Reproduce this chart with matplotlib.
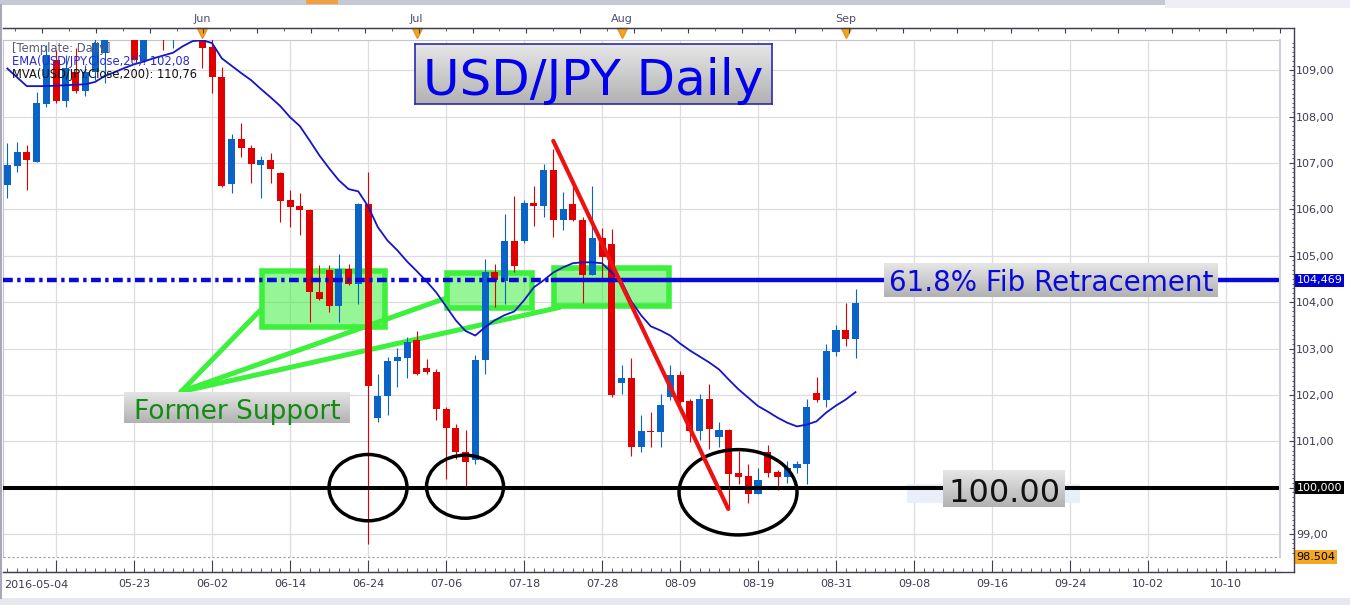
import numpy as np
import matplotlib
matplotlib.use("Agg")
import matplotlib.pyplot as plt
from matplotlib.patches import Rectangle, Ellipse
from matplotlib.colors import LinearSegmentedColormap
from matplotlib.ticker import MultipleLocator, FuncFormatter
from matplotlib.lines import Line2D

W, H = 1350, 605

# --- daily USD/JPY candles, index 0 = 2016-05-04 (one step per trading day) ---
opens = [106.52, 106.94, 107.24, 107.03, 108.27, 109.22, 108.34, 108.97, 108.56, 108.96,
         109.37, 109.90, 110.20, 110.00, 109.20, 110.10, 110.50, 109.80, 110.30, 110.50,
         110.00, 109.51, 108.86, 106.54, 107.53, 107.33, 106.95, 107.06, 106.79, 106.20,
         106.07, 105.98, 104.23, 104.69, 103.92, 104.71, 104.40, 106.11, 101.50, 101.97,
         102.73, 102.79, 103.18, 102.59, 102.49, 101.70, 101.29, 100.76, 100.60, 102.76,
         104.65, 104.46, 105.33, 105.32, 106.13, 106.08, 106.85, 105.78, 106.11, 105.78,
         104.58, 105.38, 105.25, 102.25, 102.37, 100.87, 101.23, 101.19, 101.95, 102.44,
         101.86, 101.23, 101.92, 101.10, 101.25, 100.31, 100.25, 99.86, 100.76, 100.33,
         100.22, 100.43, 100.51, 102.04, 101.88, 102.92, 103.41, 103.21]
highs = [107.43, 107.46, 107.39, 108.54, 109.55, 109.44, 109.33, 109.48, 109.12, 109.80,
         110.20, 110.30, 110.40, 110.30, 110.40, 110.60, 110.70, 110.50, 110.80, 110.60,
         110.10, 109.70, 109.08, 107.62, 107.86, 107.38, 107.15, 107.21, 106.81, 106.41,
         106.35, 106.00, 104.80, 104.80, 105.03, 104.82, 106.13, 106.80, 102.46, 102.81,
         103.01, 103.25, 103.37, 102.78, 102.56, 101.73, 101.38, 101.25, 102.87, 104.94,
         104.83, 105.90, 106.29, 106.21, 106.50, 106.98, 107.30, 106.38, 106.52, 105.84,
         106.50, 105.59, 105.57, 102.64, 102.80, 101.56, 101.63, 102.02, 102.64, 102.51,
         101.92, 102.02, 102.24, 101.41, 101.27, 100.80, 100.50, 100.43, 100.91, 100.37,
         100.57, 100.58, 101.92, 102.38, 103.10, 103.50, 103.98, 104.29]
lows = [106.24, 106.80, 106.41, 107.03, 108.20, 108.30, 108.21, 108.51, 108.45, 108.79,
        108.73, 109.75, 109.80, 109.22, 109.15, 109.90, 109.44, 109.48, 110.00, 109.80,
        109.05, 108.52, 106.48, 106.36, 107.13, 106.57, 106.25, 106.56, 105.73, 105.62,
        105.44, 103.57, 104.04, 103.79, 103.57, 104.38, 103.97, 98.79, 101.41, 101.56,
        102.17, 102.36, 102.44, 102.46, 101.46, 100.19, 100.62, 100.04, 100.52, 102.46,
        103.89, 103.97, 104.65, 105.28, 105.64, 105.83, 105.41, 105.55, 105.76, 103.98,
        104.58, 104.47, 101.95, 102.02, 100.69, 100.76, 100.87, 100.87, 101.88, 101.80,
        100.98, 101.02, 100.84, 100.87, 99.57, 100.08, 99.66, 99.86, 100.22, 99.95,
        100.09, 100.31, 100.08, 101.84, 101.75, 102.85, 103.05, 102.80]
closes = [106.95, 107.24, 107.06, 108.29, 109.33, 108.34, 109.05, 108.56, 108.96, 109.59,
          110.00, 110.20, 109.90, 109.22, 110.10, 110.40, 109.90, 110.30, 110.50, 110.00,
          109.49, 108.85, 106.51, 107.53, 107.32, 106.97, 107.06, 106.88, 106.18, 106.05,
          105.98, 104.22, 104.06, 103.92, 104.71, 104.40, 106.11, 102.19, 101.97, 102.74,
          102.81, 103.14, 102.46, 102.49, 101.70, 101.29, 100.76, 100.55, 102.76, 104.65,
          104.47, 105.33, 104.77, 106.13, 106.07, 106.85, 105.78, 106.00, 105.78, 104.58,
          105.38, 104.97, 101.99, 102.37, 100.87, 101.23, 101.19, 101.79, 102.44, 101.84,
          101.23, 101.92, 101.27, 101.25, 100.30, 100.24, 99.86, 100.17, 100.31, 100.22,
          100.43, 100.51, 101.75, 101.88, 102.94, 103.41, 103.21, 103.98]
ema20 = [109.04, 108.85, 108.66, 108.66, 108.66, 108.67, 108.68, 108.69, 108.70, 108.75,
         108.88, 108.96, 109.05, 109.13, 109.19, 109.26, 109.32, 109.38, 109.52, 109.63,
         109.65, 109.59, 109.26, 109.10, 108.94, 108.79, 108.60, 108.42, 108.23, 107.99,
         107.80, 107.49, 107.17, 106.89, 106.63, 106.44, 106.39, 106.07, 105.62, 105.33,
         105.12, 104.88, 104.67, 104.45, 104.21, 103.91, 103.61, 103.38, 103.28, 103.46,
         103.61, 103.72, 103.80, 104.04, 104.32, 104.47, 104.64, 104.75, 104.84, 104.86,
         104.86, 104.84, 104.64, 104.45, 104.02, 103.72, 103.48, 103.39, 103.28, 103.11,
         102.96, 102.83, 102.70, 102.55, 102.33, 102.12, 101.94, 101.76, 101.64, 101.51,
         101.40, 101.32, 101.36, 101.43, 101.62, 101.77, 101.90, 102.06]

# axis labels
date_idx = [13, 21, 29, 37, 45, 53, 61, 69, 77, 85, 93, 101, 109, 117, 125]
date_labels = ["05-23", "06-02", "06-14", "06-24", "07-06", "07-18", "07-28", "08-09",
               "08-19", "08-31", "09-08", "09-16", "09-24", "10-02", "10-10"]
month_idx = [20, 42, 63, 86]
month_labels = ["Jun", "Jul", "Aug", "Sep"]
price_ticks = [99, 100, 101, 102, 103, 104, 105, 106, 107, 108, 109]

# drawn annotations
fib_level = 104.469
fib_dashdot_end = 56
support_level = 100.0
zone_x0 = [26.08, 45.05, 56.03]
zone_x1 = [38.79, 53.77, 67.92]
zone_lo = [103.47, 103.88, 103.92]
zone_hi = [104.68, 104.63, 104.74]
tip_x, tip_y = 17.82, 102.07
arrow_x = [25.92, 44.90, 56.69]
arrow_y = [103.82, 104.08, 103.89]
ell_x = [37.0, 46.95, 74.95]
ell_y = [100.0, 100.02, 99.90]
ell_w = [8.0, 7.9, 12.1]
ell_h = [1.43, 1.36, 1.84]
trend_x = [56.0, 73.95]
trend_y = [107.48, 99.54]

fig = plt.figure(figsize=(13.5, 6.05), dpi=100)
fig.patch.set_facecolor("white")
ax = fig.add_axes([3 / W, 1 - 557 / H, 1277 / W, 517 / H])

x = np.arange(len(opens))
o, hi, lo, c = map(np.array, (opens, highs, lows, closes))
col = np.where(c >= o, "#0a64c8", "#e00000")
ax.vlines(x, lo, hi, colors=col, lw=0.8, zorder=3)
ax.bar(x, np.maximum(np.abs(c - o), 0.03), bottom=np.minimum(o, c), width=0.72,
       color=col, linewidth=0, zorder=3)
ax.plot(x, ema20, color="#1414c8", lw=1.3, zorder=4)

# green zones + pointer lines
for x0, x1, y0, y1 in zip(zone_x0, zone_x1, zone_lo, zone_hi):
    ax.add_patch(Rectangle((x0, y0), x1 - x0, y1 - y0, fc=(0.25, 0.94, 0.25, 0.55),
                           ec="#3cf03c", lw=4, zorder=2))
for ex, ey in zip(arrow_x, arrow_y):
    ax.plot([tip_x, ex], [tip_y, ey], color="#3cf03c", lw=3.6, solid_capstyle="round", zorder=2)

ax.add_patch(Rectangle((92.28, 99.676), 17.75, 0.41, fc="#e9effa", ec="none", zorder=4))

# fib level and 100 line
ax.plot([-0.44, fib_dashdot_end], [fib_level, fib_level], color="#0a0ad8", lw=3.2,
        ls=(0, (2.2, 1.0, 0.75, 1.0)), zorder=5)
ax.plot([fib_dashdot_end, 130.54], [fib_level, fib_level], color="#0a0ad8", lw=3.2, zorder=5)
ax.axhline(support_level, color="black", lw=2.9, zorder=5)

for ex, ey, ew, eh in zip(ell_x, ell_y, ell_w, ell_h):
    ax.add_patch(Ellipse((ex, ey), ew, eh, fill=False, ec="black", lw=2.5, zorder=6))
ax.plot(trend_x, trend_y, color="#ee1111", lw=3.0, solid_capstyle="round", zorder=7)

ax.set_xlim(-0.44, 130.54)
ax.set_ylim(98.504, 109.655)

# grid / axes styling
ax.set_xticks([5] + date_idx)
ax.set_xticklabels([""] + date_labels)
ax.xaxis.set_minor_locator(MultipleLocator(1))
ax.set_yticks(price_ticks)
ax.yaxis.set_minor_locator(MultipleLocator(0.1))
# the 100 label sits under the 100,000 price tag
ax.yaxis.set_major_formatter(FuncFormatter(
    lambda v, _: "" if abs(v - support_level) < 1e-6 else f"{v:.2f}".replace(".", ",")))
ax.grid(True, color="#dcdce2", lw=0.9, zorder=0)
ax.set_axisbelow(True)
ax.yaxis.tick_right()
ax.spines["right"].set_position(("outward", 10.08))
ax.spines["bottom"].set_position(("outward", 10.8))
for s in ["right", "bottom"]:
    ax.spines[s].set_color("#404050")
for s in ["left", "top"]:
    ax.spines[s].set_color("#c4c4d0")
ax.tick_params(axis="y", which="major", direction="in", length=3.6, width=0.8,
               colors="#404050", labelsize=8, pad=1.5, labelcolor="#3c3c50")
ax.tick_params(axis="y", which="minor", direction="in", length=1.8, width=0.6, colors="#404050")
ax.tick_params(axis="x", which="major", direction="in", length=8.6, width=0.8,
               colors="#404050", labelsize=8, pad=5, labelcolor="#3c3c50")
ax.tick_params(axis="x", which="minor", direction="in", length=3.0, width=0.6, colors="#404050")
ax.plot([0, 1], [0, 0], transform=ax.transAxes, color="#9a9aaa", lw=0.8,
        ls=(0, (2, 2)), clip_on=False, zorder=8)
ax.plot([1, 1], [0, 1], transform=ax.transAxes, color="#d0d0da", lw=1.5, clip_on=False, zorder=8)
ax.text(0.001, -0.0545, "2016-05-04", transform=ax.transAxes, ha="left", va="center",
        fontsize=8, color="#3c3c50")

# top month axis
axt = ax.twiny()
axt.set_xlim(ax.get_xlim())
axt.spines["top"].set_position(("outward", 8.64))
axt.spines["top"].set_color("#404050")
for s in ["left", "right", "bottom"]:
    axt.spines[s].set_visible(False)
axt.set_xticks(np.arange(3.56, 131, 5.52))
axt.set_xticks(np.arange(0.8, 131, 2.76), minor=True)
axt.tick_params(which="major", direction="in", length=3.6, width=0.8, colors="#404050",
                labeltop=False)
axt.tick_params(which="minor", direction="in", length=2.0, width=0.6, colors="#404050")
xt = ax.get_xaxis_transform()
ax.plot(month_idx, [1.0135] * len(month_idx), ls="none", marker="v", ms=7, color="#f4a324",
        mec="#e8961a", transform=xt, clip_on=False, zorder=10)
for mi, ml in zip(month_idx, month_labels):
    ax.text(mi, 1.0348, ml, transform=xt, ha="center", va="baseline", fontsize=8, color="#4a5070")

# price tags on the right axis
yt = ax.get_yaxis_transform()
for val, txt, fc, tc in [(fib_level, "104,469", "#0000d0", "white"),
                         (support_level, "100,000", "black", "white"),
                         (98.504, "98.504", "#f5a623", "black")]:
    ax.text(1.0128, val, txt, transform=yt, ha="left", va="center", fontsize=8, color=tc,
            bbox=dict(boxstyle="square,pad=0.15", fc=fc, ec="none"), zorder=10)

# frame lines and window chrome
def fline(x0, y0, x1, y1, color="#404050", lw=1.0):
    fig.add_artist(Line2D([x0 / W, x1 / W], [1 - y0 / H, 1 - y1 / H], color=color, lw=lw,
                          transform=fig.transFigure))

fline(3, 28, 1294, 28)
fline(3, 572, 1294, 572)
fline(1294, 28, 1294, 572)
fline(1, 5, 1, 598, color="#a8a8b8", lw=1.5)
fig.add_artist(Rectangle((0, 1 - 5 / H), 1165 / W, 5 / H, transform=fig.transFigure,
                         fc="#c6c8d4", ec="none"))
fig.add_artist(Rectangle((1165 / W, 1 - 8 / H), 185 / W, 8 / H, transform=fig.transFigure,
                         fc="#eeeef4", ec="none"))
fig.add_artist(Rectangle((306 / W, 1 - 4 / H), 32 / W, 4 / H, transform=fig.transFigure,
                         fc="#f0a040", ec="none"))
fig.add_artist(Rectangle((0, 0), 1, 7 / H, transform=fig.transFigure, fc="#e6e8f0", ec="none"))

# legend text
fig.text(12 / W, 1 - 52 / H, "[Template: Daily]", fontsize=8.3, color="#5a5a78", va="baseline")
fig.text(12 / W, 1 - 65 / H, "EMA(USD/JPY.Close,20): 102,08", fontsize=8.3, color="#2a2ad0",
         va="baseline")
fig.text(12 / W, 1 - 78 / H, "MVA(USD/JPY.Close,200): 110,76", fontsize=8.3, color="#111111",
         va="baseline")

# gradient label boxes
grad = LinearSegmentedColormap.from_list("g", ["#e6e6e6", "#b2b2b2"])


def label_box(x0, y0, x1, y1, text, color, size, base, edge=None):
    bx = fig.add_axes([x0 / W, 1 - y1 / H, (x1 - x0) / W, (y1 - y0) / H])
    bx.imshow(np.linspace(0, 1, 64).reshape(-1, 1), cmap=grad, aspect="auto", extent=[0, 1, 0, 1])
    bx.set_xticks([])
    bx.set_yticks([])
    for s in bx.spines.values():
        if edge:
            s.set_color(edge)
            s.set_linewidth(1.2)
        else:
            s.set_visible(False)
    bx.text(0.5, base, text, ha="center", va="baseline", fontsize=size, color=color,
            transform=bx.transAxes)


label_box(415, 44, 772, 104, "USD/JPY Daily", "#0000ee", 36, 0.15, edge="#2a2ab0")
label_box(884, 263, 1218, 297, "61.8% Fib Retracement", "#0a0ad8", 20, 0.185)
label_box(124, 392, 350, 423, "Former Support", "#138a13", 19, 0.12)
label_box(943, 470, 1065, 507, "100.00", "#111111", 23, 0.143)

fig.savefig("out.png", dpi=100)
